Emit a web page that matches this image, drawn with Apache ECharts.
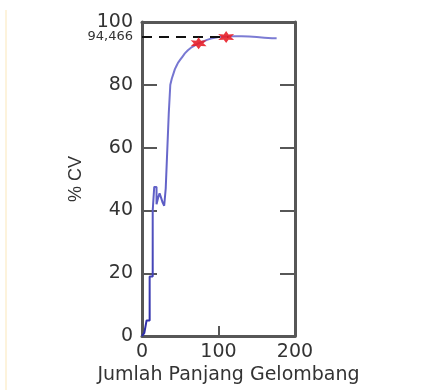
<!DOCTYPE html>
<html>
<head>
<meta charset="utf-8">
<script src="https://cdn.jsdelivr.net/npm/echarts@6/dist/echarts.min.js"></script>
<style>
html,body{margin:0;padding:0;background:#fff;}
#c{width:424px;height:390px;}
</style>
</head>
<body>
<div id="c"></div>
<script>
const curveX = [0,3,6,10,10,14,14,16,16,19,19,21,23,25,27,29,31,31,33,33,35,35,37,37,39,41,43,45,47,50,53,56,60,64,68,72,76,80,85,90,95,100,105,110,120,130,140,150,160,170,176];
const curveY = [0,1,5,5,19,19,40,40,47.5,47.5,42,44,45.5,44,42.5,41.5,41.5,47,47,59,59,71,71,80,82,83.5,85,86,87,88,89,90,91,91.8,92.4,93,93.4,93.8,94.3,94.7,95,95.2,95.3,95.4,95.5,95.5,95.4,95.2,95,94.8,94.8];
const starX = [74,110];
const starY = [93.2,95.2];
const thresholdLabel = "94,466";
const thresholdY = 95.2;
const thresholdEndX = 113;
const xTicks = [0,100,200];
const yTicks = [0,20,40,60,80,100];
const xName = "Jumlah Panjang Gelombang";
const yName = "% CV";

const chart = echarts.init(document.getElementById('c'));
const font = '"DejaVu Sans", Verdana, sans-serif';
const font2 = '"Liberation Sans", Arial, sans-serif';
const axisCol = '#575757';
const textCol = '#333';
const starPath = 'path://M0,-10 L2.6,-4.5 L8.7,-5 L5.2,0 L8.7,5 L2.6,4.5 L0,10 L-2.6,4.5 L-8.7,5 L-5.2,0 L-8.7,-5 L-2.6,-4.5 Z';

chart.setOption({
  animation: false,
  backgroundColor: '#fff',
  graphic: [{
    type: 'rect', shape: {x: 5, y: 10, width: 2, height: 380},
    style: {fill: '#fdf3dc'}, silent: true
  }],
  grid: {left: 142, top: 22, width: 153, height: 315},
  xAxis: [{
    type: 'value', min: xTicks[0], max: xTicks[xTicks.length-1], interval: 100,
    position: 'bottom',
    name: xName, nameLocation: 'middle', nameGap: 28,
    nameTextStyle: {fontFamily: font, fontSize: 19, color: textCol, padding: [0, 0, 0, 20]},
    axisLine: {show: true, onZero: false, lineStyle: {color: axisCol, width: 3}},
    axisTick: {show: true, inside: true, length: 10, lineStyle: {color: axisCol, width: 2}},
    axisLabel: {fontFamily: font, fontSize: 19, color: textCol, margin: 6},
    splitLine: {show: false}
  }, {
    type: 'value', min: 0, max: 200, position: 'top',
    axisLine: {show: true, onZero: false, lineStyle: {color: axisCol, width: 3}},
    axisTick: {show: false}, axisLabel: {show: false}, splitLine: {show: false}
  }],
  yAxis: [{
    type: 'value', min: yTicks[0], max: yTicks[yTicks.length-1], interval: 20,
    position: 'left',
    name: yName, nameLocation: 'middle', nameGap: 57, nameRotate: 90,
    nameTextStyle: {fontFamily: font2, fontSize: 18, color: textCol},
    axisLine: {show: true, onZero: false, lineStyle: {color: axisCol, width: 3}},
    axisTick: {show: true, inside: true, length: 15, lineStyle: {color: axisCol, width: 2}},
    axisLabel: {fontFamily: font, fontSize: 19, color: textCol, margin: 9},
    splitLine: {show: false}
  }, {
    type: 'value', min: 0, max: 100, interval: 20, position: 'right',
    axisLine: {show: true, onZero: false, lineStyle: {color: axisCol, width: 3}},
    axisTick: {show: true, inside: true, length: 15, lineStyle: {color: axisCol, width: 2}},
    axisLabel: {show: false}, splitLine: {show: false}
  }],
  series: [{
    type: 'line',
    data: curveX.map((x, i) => [x, curveY[i]]),
    showSymbol: false,
    lineStyle: {
      width: 2,
      color: new echarts.graphic.LinearGradient(0, 0, 0, 1, [
        {offset: 0, color: '#7c7cd4'},
        {offset: 0.5, color: '#6262c8'},
        {offset: 1, color: '#2a2aa8'}
      ])
    },
    z: 3,
    markLine: {
      silent: true, symbol: ['none', 'none'],
      lineStyle: {color: '#111', type: [10, 7], width: 2},
      label: {show: true, position: 'start', formatter: thresholdLabel,
              fontFamily: font, fontSize: 13, color: textCol, distance: 9},
      data: [[{coord: [0, thresholdY]}, {coord: [thresholdEndX, thresholdY]}]]
    }
  }, {
    type: 'scatter',
    data: starX.map((x, i) => [x, starY[i]]),
    symbol: starPath, symbolSize: [16, 12],
    itemStyle: {color: '#e8202a', opacity: 0.9},
    z: 5
  }]
});
</script>
</body>
</html>
